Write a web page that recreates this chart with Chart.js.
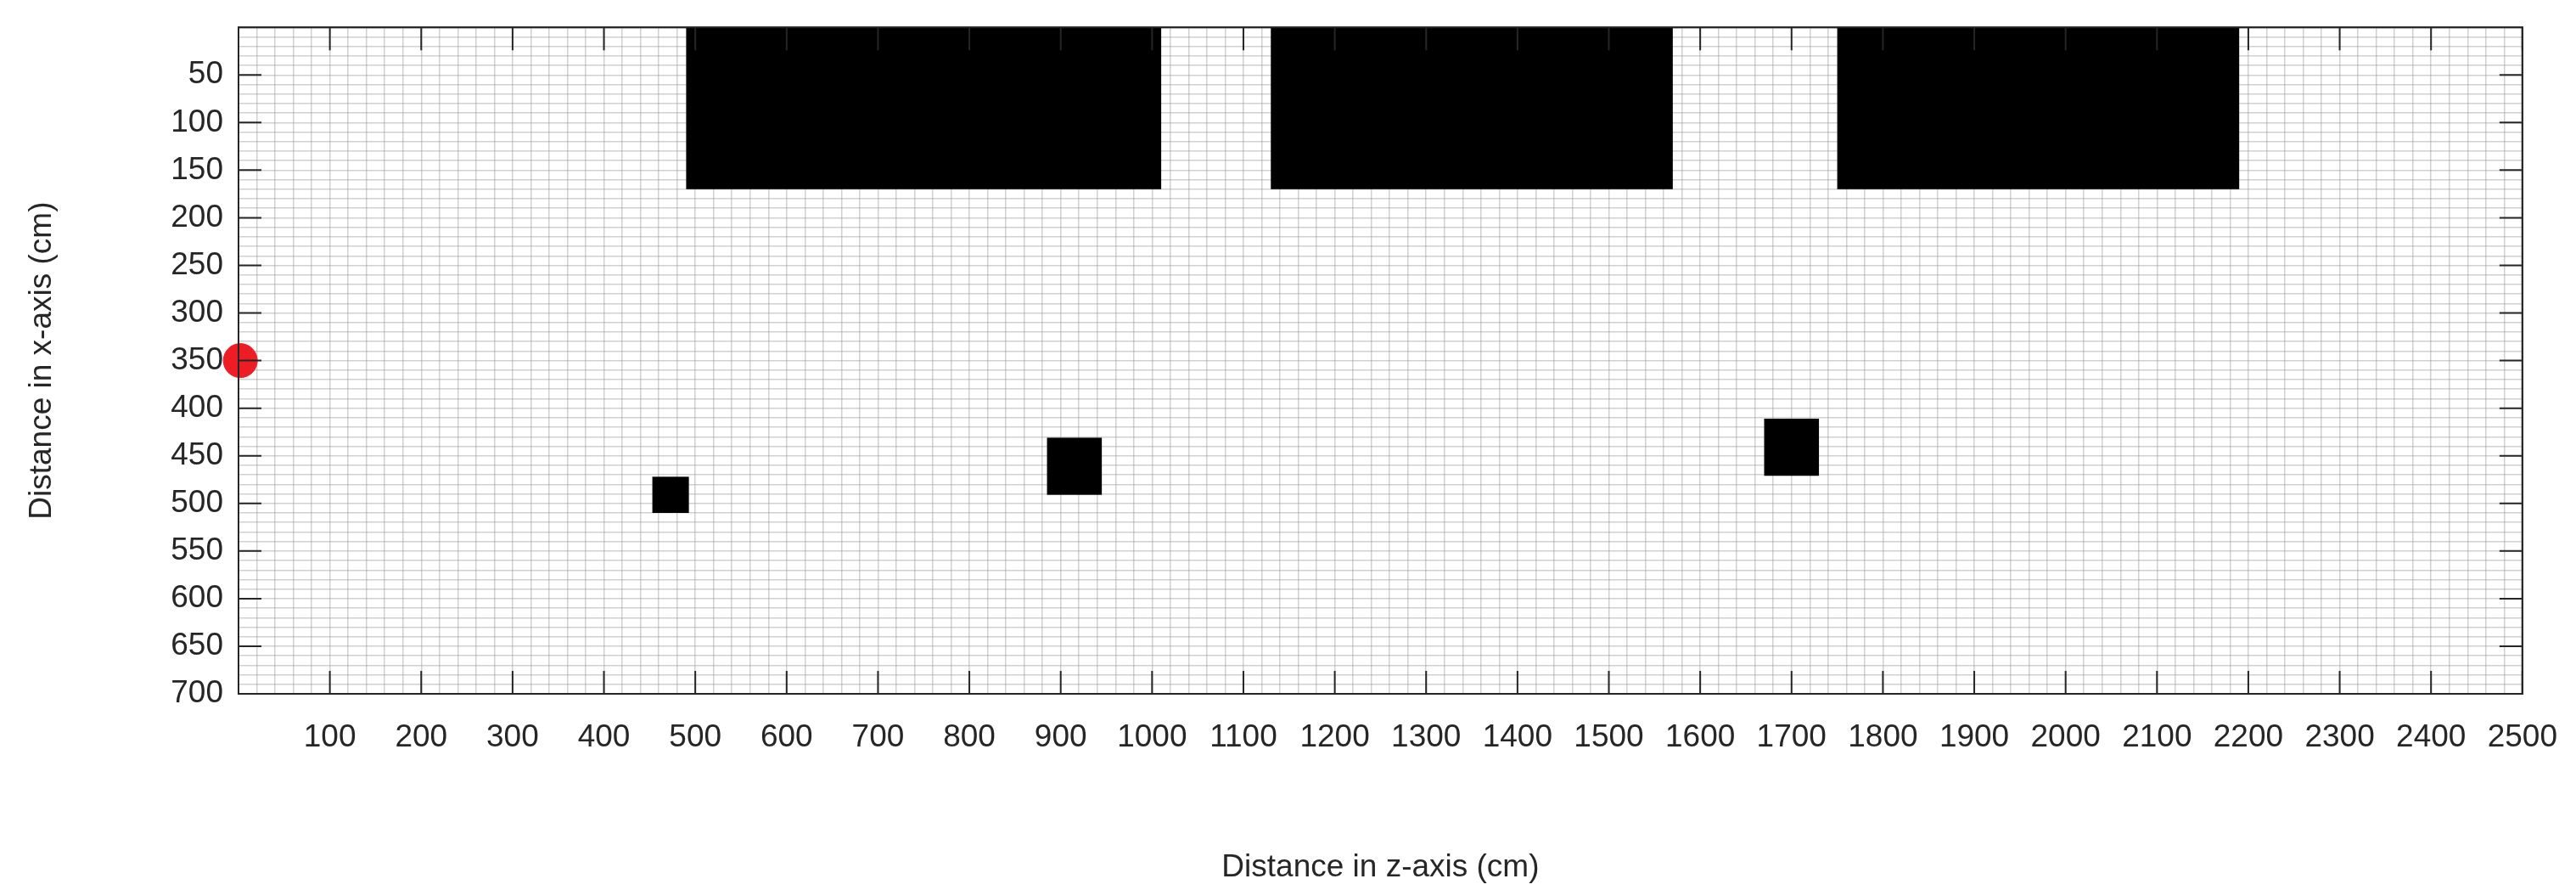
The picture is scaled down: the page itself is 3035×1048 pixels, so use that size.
<!DOCTYPE html>
<html><head><meta charset="utf-8">
<script src="https://cdn.jsdelivr.net/npm/chart.js@4/dist/chart.umd.min.js"></script>
<style>html,body{margin:0;background:#fff}#w{width:3035px;height:1048px}</style>
</head><body><div id="w"><canvas id="c"></canvas></div>
<script>
// Obstacles [zStart, zEnd, xStart, xEnd] in cm
const obstacleZStart = [490, 1130, 1750, 453, 885, 1670];
const obstacleZEnd   = [1010, 1570, 2190, 493, 945, 1730];
const obstacleXStart = [0, 0, 0, 472, 431, 411];
const obstacleXEnd   = [170, 170, 170, 510, 491, 471];
const sourceZ = [2];
const sourceX = [350];
const xTickValues = [100,200,300,400,500,600,700,800,900,1000,1100,1200,1300,1400,1500,1600,1700,1800,1900,2000,2100,2200,2300,2400,2500];
const yTickValues = [50,100,150,200,250,300,350,400,450,500,550,600,650,700];

const FONT = 'Liberation Sans, Arial, sans-serif';
const obstaclePlugin = {
  id:'obst',
  beforeDatasetsDraw(ch){
    const {ctx, scales:{x,y}} = ch;
    ctx.save(); ctx.fillStyle='#000';
    for(let i=0;i<obstacleZStart.length;i++){
      const x0=x.getPixelForValue(obstacleZStart[i]), x1=x.getPixelForValue(obstacleZEnd[i]);
      const y0=y.getPixelForValue(obstacleXStart[i]), y1=y.getPixelForValue(obstacleXEnd[i]);
      ctx.fillRect(x0,Math.min(y0,y1),x1-x0,Math.abs(y1-y0));
    }
    ctx.restore();
  },
  beforeDraw(ch){
    const {ctx, chartArea:a} = ch;
    ctx.save(); ctx.strokeStyle='#262626'; ctx.lineWidth=2;
    ctx.strokeRect(a.left,a.top,a.right-a.left,a.bottom-a.top); ctx.restore();
  },
  afterDatasetsDraw(ch){
    const {ctx, chartArea:a, scales:{x,y}} = ch;
    ctx.save(); ctx.strokeStyle='#262626'; ctx.lineWidth=2;
    ctx.beginPath();
    xTickValues.forEach(v=>{const p=x.getPixelForValue(v);
      ctx.moveTo(p,a.bottom);ctx.lineTo(p,a.bottom-27);ctx.moveTo(p,a.top);ctx.lineTo(p,a.top+27);});
    yTickValues.forEach(v=>{const p=y.getPixelForValue(v);
      ctx.moveTo(a.left,p);ctx.lineTo(a.left+27,p);ctx.moveTo(a.right,p);ctx.lineTo(a.right-27,p);});
    ctx.stroke();
    ctx.strokeRect(a.left,a.top,a.right-a.left,a.bottom-a.top);
    ctx.restore();
  }
};
const mkTicks = vals => (sc)=>{ sc.ticks = vals.map(v=>({value:v})); };
new Chart(document.getElementById('c'),{
  type:'scatter',
  data:{datasets:[{data:sourceZ.map((z,i)=>({x:z,y:sourceX[i]})),backgroundColor:'#ee1c25',borderColor:'#ee1c25',pointRadius:20,pointHoverRadius:20,clip:false}]},
  options:{
    responsive:true, maintainAspectRatio:false, animation:false,
    layout:{padding:{top:27,right:62,left:0,bottom:0}},
    plugins:{legend:{display:false},tooltip:{enabled:false}},
    scales:{
      x:{type:'linear',min:0,max:2500,afterBuildTicks:mkTicks(xTickValues),
        afterFit(s){s.height=231;},
        grid:{display:false},border:{display:false},
        ticks:{padding:22,color:'#262626',font:{family:FONT,size:37},maxRotation:0,autoSkip:false,callback:v=>String(v)},
        title:{display:true,text:'Distance in z-axis (cm)',color:'#262626',font:{family:FONT,size:37},padding:{top:70}}},
      y:{type:'linear',min:0,max:700,reverse:true,afterBuildTicks:mkTicks(yTickValues),
        afterFit(s){s.width=281;},
        grid:{display:false},border:{display:false},
        ticks:{padding:10,color:'#262626',font:{family:FONT,size:37},autoSkip:false,callback:v=>String(v)},
        title:{display:true,text:'Distance in x-axis (cm)',color:'#262626',font:{family:FONT,size:37},padding:{top:28,bottom:60}}},
      x2:{type:'linear',position:'bottom',min:0,max:2500,afterFit(s){s.height=0;},
        ticks:{display:false,stepSize:20,autoSkip:false},border:{display:false},
        grid:{color:'rgba(150,150,150,0.45)',lineWidth:1.5,borderDash:[3,3],drawTicks:false}},
      y2:{type:'linear',position:'left',min:0,max:700,reverse:true,afterFit(s){s.width=0;},
        ticks:{display:false,stepSize:10,autoSkip:false},border:{display:false},
        grid:{color:'rgba(150,150,150,0.45)',lineWidth:1.5,borderDash:[3,3],drawTicks:false}}
    }
  },
  plugins:[obstaclePlugin]
});
</script></body></html>
